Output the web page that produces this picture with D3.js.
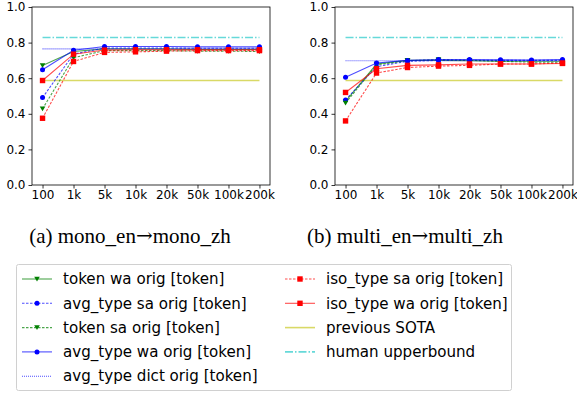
<!DOCTYPE html>
<html>
<head>
<meta charset="utf-8">
<script src="https://cdnjs.cloudflare.com/ajax/libs/d3/7.8.5/d3.min.js"></script>
<style>
  body { margin: 0; background: #fff; }
  svg text { font-family: "DejaVu Sans", sans-serif; }
  .caption { font-family: "Liberation Serif", "Times New Roman", serif; }
</style>
</head>
<body>
<script>
// x categories (training size)
const sizes = ["100", "1k", "5k", "10k", "20k", "50k", "100k", "200k"];
const yTicks = [0, 0.2, 0.4, 0.6, 0.8, 1.0];

// panel (a) mono_en -> mono_zh
const monoTokenWa  = [0.671, 0.750, 0.765, 0.765, 0.765, 0.762, 0.762, 0.762];
const monoAvgSa    = [0.491, 0.735, 0.770, 0.770, 0.770, 0.768, 0.768, 0.768];
const monoTokenSa  = [0.428, 0.715, 0.755, 0.755, 0.755, 0.752, 0.752, 0.750];
const monoAvgWa    = [0.647, 0.757, 0.778, 0.778, 0.778, 0.776, 0.776, 0.776];
const monoAvgDict  = [0.765, 0.765, 0.765, 0.765, 0.765, 0.765, 0.765, 0.765];
const monoIsoSa    = [0.375, 0.694, 0.745, 0.748, 0.752, 0.755, 0.755, 0.755];
const monoIsoWa    = [0.587, 0.735, 0.758, 0.760, 0.760, 0.760, 0.760, 0.760];

// panel (b) multi_en -> multi_zh
const multiTokenWa = [0.470, 0.680, 0.700, 0.700, 0.698, 0.695, 0.695, 0.695];
const multiAvgSa   = [0.478, 0.665, 0.695, 0.700, 0.700, 0.700, 0.700, 0.700];
const multiTokenSa = [0.460, 0.675, 0.698, 0.705, 0.700, 0.695, 0.690, 0.690];
const multiAvgWa   = [0.606, 0.685, 0.700, 0.705, 0.705, 0.703, 0.702, 0.705];
const multiAvgDict = [0.698, 0.698, 0.698, 0.698, 0.698, 0.698, 0.698, 0.698];
const multiIsoSa   = [0.360, 0.629, 0.660, 0.668, 0.672, 0.680, 0.680, 0.685];
const multiIsoWa   = [0.520, 0.653, 0.672, 0.675, 0.680, 0.680, 0.680, 0.683];

const previousSota = 0.587;
const humanUpper = 0.829;

const seriesNames = ["token wa orig [token]", "avg_type sa orig [token]", "token sa orig [token]",
  "avg_type wa orig [token]", "avg_type dict orig [token]", "iso_type sa orig [token]",
  "iso_type wa orig [token]", "previous SOTA", "human upperbound"];

const styles = [
  {color: "#008000", dash: null,    marker: "tri"},
  {color: "#0000ff", dash: "2.5,1.5", marker: "dot"},
  {color: "#008000", dash: "2.5,1.5", marker: "tri"},
  {color: "#0000ff", dash: null,    marker: "dot"},
  {color: "#0000ff", dash: "1,1",   marker: null},
  {color: "#ff0000", dash: "2.5,1.5", marker: "sq"},
  {color: "#ff0000", dash: null,    marker: "sq"},
  {color: "#bfbf00", dash: null,    marker: null},
  {color: "#00bfbf", dash: "8,2,1.5,2", marker: null}
];

const panels = [
  {left: 32, caption: ["(a) mono_en", "mono_zh"], capX: 130,
   data: [monoTokenWa, monoAvgSa, monoTokenSa, monoAvgWa, monoAvgDict, monoIsoSa, monoIsoWa]},
  {left: 335, caption: ["(b) multi_en", "multi_zh"], capX: 405,
   data: [multiTokenWa, multiAvgSa, multiTokenSa, multiAvgWa, multiAvgDict, multiIsoSa, multiIsoWa]}
];

const svg = d3.select("body").append("svg").attr("width", 577).attr("height", 394);
const plotW = 238, plotTop = 7, plotBottom = 185;

function drawMarker(g, kind, x, y, color) {
  if (kind === "tri") {
    g.append("path").attr("d", `M${x-2.8},${y-2.3}L${x+2.8},${y-2.3}L${x},${y+2.5}Z`).attr("fill", color);
  } else if (kind === "dot") {
    g.append("circle").attr("cx", x).attr("cy", y).attr("r", 2.5).attr("fill", color);
  } else if (kind === "sq") {
    g.append("rect").attr("x", x-2.7).attr("y", y-2.7).attr("width", 5.4).attr("height", 5.4).attr("fill", color);
  }
}

panels.forEach(p => {
  const x = d3.scalePoint().domain(sizes).range([p.left, p.left + plotW]).padding(0.34);
  const y = d3.scaleLinear().domain([0, 1]).range([plotBottom, plotTop]);
  const g = svg.append("g");

  const line = d3.line().x((d, i) => x(sizes[i])).y(d => y(d));

  // horizontal references
  const flat = v => sizes.map(() => v);
  g.append("path").attr("d", line(flat(humanUpper))).attr("fill", "none")
    .attr("stroke", styles[8].color).attr("stroke-opacity", 0.6).attr("stroke-width", 1.6).attr("stroke-dasharray", styles[8].dash);
  g.append("path").attr("d", line(flat(previousSota))).attr("fill", "none")
    .attr("stroke", styles[7].color).attr("stroke-opacity", 0.6).attr("stroke-width", 1.6);

  p.data.forEach((vals, k) => {
    const s = styles[k];
    const lg = g.append("g");
    lg.append("path").attr("d", line(vals)).attr("fill", "none")
      .attr("stroke", s.color).attr("stroke-opacity", 0.7).attr("stroke-width", 1.1)
      .attr("stroke-dasharray", s.dash);
    if (s.marker) vals.forEach((v, i) => drawMarker(lg, s.marker, x(sizes[i]), y(v), s.color));
  });

  // axes
  const yAxis = g.append("g").attr("transform", `translate(${p.left},0)`)
    .call(d3.axisLeft(y).tickValues(yTicks).tickFormat(d3.format(".1f")).tickSize(3.5).tickPadding(3));
  const xAxis = g.append("g").attr("transform", `translate(0,${plotBottom})`)
    .call(d3.axisBottom(x).tickSize(3.5).tickPadding(2));
  [yAxis, xAxis].forEach(a => {
    a.select(".domain").remove();
    a.selectAll("text").attr("font-size", 12).attr("fill", "#000")
      .style("font-family", "DejaVu Sans, sans-serif");
    a.selectAll("line").attr("stroke", "#000").attr("stroke-width", 0.8);
  });
  g.append("rect").attr("x", p.left).attr("y", plotTop).attr("width", plotW).attr("height", plotBottom - plotTop)
    .attr("fill", "none").attr("stroke", "#000").attr("stroke-width", 0.8);

  const cap = svg.append("text").attr("class", "caption").attr("x", p.capX).attr("y", 243)
    .attr("text-anchor", "middle").attr("font-size", 21);
  cap.append("tspan").text(p.caption[0]);
  cap.append("tspan").style("font-family", "DejaVu Serif, serif").attr("font-size", 20).attr("dy", -1).text("\u2192");
  cap.append("tspan").attr("dy", 1).text(p.caption[1]);
});

// legend
const lgd = svg.append("g");
lgd.append("rect").attr("x", 16.5).attr("y", 264.5).attr("width", 495).attr("height", 126).attr("rx", 2)
  .attr("fill", "#fff").attr("stroke", "#d0d0d0").attr("stroke-width", 1);
seriesNames.forEach((name, k) => {
  const col = k < 5 ? 0 : 1;
  const row = k < 5 ? k : k - 5;
  const lx = col === 0 ? 22 : 285;
  const ly = 279 + row * 24.3;
  const s = styles[k];
  lgd.append("line").attr("x1", lx).attr("x2", lx + 30).attr("y1", ly).attr("y2", ly)
    .attr("stroke", s.color).attr("stroke-opacity", k >= 7 ? 0.6 : 0.7)
    .attr("stroke-width", k >= 7 ? 1.6 : 1.1).attr("stroke-dasharray", s.dash);
  if (s.marker) drawMarker(lgd, s.marker, lx + 15, ly, s.color);
  lgd.append("text").attr("x", lx + 41).attr("y", ly).attr("dy", "0.35em")
    .attr("font-size", 15.1).attr("fill", "#000").text(name);
});
</script>
</body>
</html>
